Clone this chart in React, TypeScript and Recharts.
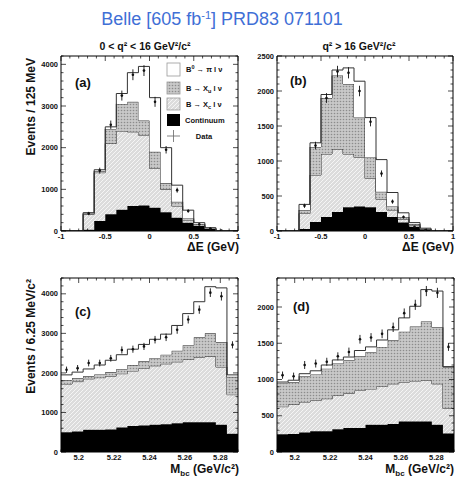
import React from "react";
import { Area, ComposedChart, ErrorBar, Scatter, XAxis, YAxis } from "recharts";

// bin edges (16 bins each)
const DE_EDGES = [-1, -0.875, -0.75, -0.625, -0.5, -0.375, -0.25, -0.125, 0, 0.125, 0.25, 0.375, 0.5, 0.625, 0.75, 0.875, 1];
const MBC_EDGES = [5.19, 5.19625, 5.2025, 5.20875, 5.215, 5.22125, 5.2275, 5.23375, 5.24, 5.24625, 5.2525, 5.25875, 5.265, 5.27125, 5.2775, 5.28375, 5.29];

const DE_LABELS = [-1, -0.5, 0, 0.5, 1];
const MBC_LABELS = [5.2, 5.22, 5.24, 5.26, 5.28];

// (a) dE, 0 < q2 < 16
const A_CONT = [0, 0, 30, 240, 400, 510, 600, 610, 560, 450, 320, 200, 120, 50, 0, 0];
const A_XC = [0, 0, 370, 1160, 1700, 1890, 1780, 1690, 940, 550, 280, 50, 30, 10, 0, 0];
const A_XU = [0, 0, 20, 40, 350, 650, 720, 350, 400, 150, 100, 50, 20, 0, 0, 0];
const A_SIG = [0, 0, 20, 30, 50, 250, 700, 1300, 1300, 850, 400, 200, 30, 20, 10, 0];
const A_DATA = [0, 0, 420, 1450, 2550, 3250, 3750, 3850, 3100, 1950, 980, 480, 160, 60, 10, 0];
const A_ERR = [0, 0, 40, 70, 100, 120, 130, 130, 120, 90, 60, 40, 25, 15, 8, 0];

// (b) dE, q2 > 16
const B_CONT = [0, 0, 30, 130, 200, 270, 340, 350, 340, 270, 200, 120, 60, 20, 0, 0];
const B_XC = [0, 0, 220, 670, 900, 900, 760, 700, 410, 180, 100, 50, 20, 5, 0, 0];
const B_XU = [0, 0, 50, 400, 800, 1050, 1000, 570, 300, 110, 50, 30, 20, 5, 0, 0];
const B_SIG = [0, 0, 80, 60, 50, 80, 230, 520, 570, 460, 200, 60, 20, 10, 0, 0];
const B_DATA = [0, 0, 360, 1220, 1900, 2280, 2260, 2000, 1560, 820, 420, 200, 60, 15, 0, 0];
const B_ERR = [0, 0, 30, 55, 70, 80, 80, 75, 65, 45, 30, 20, 12, 6, 0, 0];

// (c) Mbc, 0 < q2 < 16
const C_CONT = [500, 520, 560, 560, 570, 620, 660, 670, 690, 700, 730, 750, 750, 750, 690, 460];
const C_XC = [1220, 1260, 1290, 1320, 1350, 1360, 1390, 1450, 1490, 1530, 1550, 1590, 1650, 1670, 1460, 990];
const C_XU = [100, 90, 70, 80, 100, 120, 150, 180, 200, 230, 280, 360, 500, 580, 630, 450];
const C_SIG = [130, 150, 180, 240, 300, 360, 400, 420, 470, 520, 640, 800, 900, 1180, 1370, 50];
const C_DATA = [2080, 2120, 2250, 2250, 2370, 2580, 2600, 2670, 2840, 2900, 3090, 3350, 3600, 4030, 3940, 2710];
const C_ERR = [80, 80, 85, 85, 85, 90, 90, 90, 95, 95, 100, 100, 105, 110, 110, 90];

// (d) Mbc, q2 > 16
const D_CONT = [245, 250, 270, 285, 285, 315, 330, 330, 375, 375, 385, 420, 420, 420, 375, 255];
const D_XC = [380, 405, 420, 425, 450, 465, 480, 520, 495, 530, 555, 545, 560, 570, 565, 345];
const D_XU = [325, 310, 355, 360, 415, 440, 455, 470, 510, 545, 605, 695, 750, 810, 780, 575];
const D_SIG = [15, 25, 35, 50, 50, 50, 45, 80, 70, 95, 140, 190, 280, 440, 500, 0];
const D_DATA = [1060, 1045, 1200, 1220, 1245, 1320, 1380, 1555, 1580, 1630, 1720, 1915, 2030, 2220, 2195, 1450];
const D_ERR = [50, 50, 55, 55, 55, 55, 60, 60, 60, 60, 65, 65, 70, 70, 70, 55];

const FONT = "'Liberation Sans', Arial, Helvetica, sans-serif";
const LINE = "#333";

function tickList(lo: number, hi: number, step: number) {
  const out: number[] = [];
  const n = Math.round((hi - lo) / step);
  for (let i = 0; i <= n; i++) out.push(+(lo + i * step).toFixed(6));
  return out;
}

function tickFor(side: string, majors: number[], labels: boolean) {
  return (props: any) => {
    const { x, y, payload } = props;
    const v = payload.value;
    const major = majors.some((m) => Math.abs(m - v) < 1e-9);
    const len = major ? 5 : 2.5;
    let line = null;
    let text = null;
    if (side === "bottom") {
      line = <line x1={x} y1={y} x2={x} y2={y - len} />;
      if (labels && major)
        text = <text x={x} y={y + 8} textAnchor="middle">{String(v)}</text>;
    } else if (side === "top") {
      line = <line x1={x} y1={y} x2={x} y2={y + len} />;
    } else if (side === "left") {
      line = <line x1={x} y1={y} x2={x + len} y2={y} />;
      if (labels && major)
        text = <text x={x - 3} y={y + 2.6} textAnchor="end">{String(v)}</text>;
    } else {
      line = <line x1={x} y1={y} x2={x - len} y2={y} />;
    }
    return (
      <g>
        <g stroke="#000" strokeWidth={0.7}>{line}</g>
        {text && (
          <g fill="#111" fontSize={7.5} fontWeight="bold" fontFamily={FONT}>
            {text}
          </g>
        )}
      </g>
    );
  };
}

type PanelProps = {
  id: string;
  left: number;
  top: number;
  w: number;
  h: number;
  edges: number[];
  cont: number[];
  xc: number[];
  xu: number[];
  sig: number[];
  data: number[];
  err: number[];
  xMajor: number[];
  xMinor: number;
  yMax: number;
  yMajorStep: number;
  yMinor: number;
};

function Panel(p: PanelProps) {
  const last = p.cont.length - 1;
  const table = p.edges.map((x, i) => {
    const k = Math.min(i, last);
    return { x, cont: p.cont[k], xc: p.xc[k], xu: p.xu[k], sig: p.sig[k] };
  });
  const points = p.data
    .map((y, i) => ({ x: (p.edges[i] + p.edges[i + 1]) / 2, y, err: p.err[i] }))
    .filter((d) => d.y > 0);
  const xDomain: [number, number] = [p.edges[0], p.edges[p.edges.length - 1]];
  const xTicks = tickList(xDomain[0], xDomain[1], p.xMinor);
  const yTicks = tickList(0, p.yMax, p.yMinor);
  const yMajor = tickList(0, p.yMax, p.yMajorStep);

  return (
    <div style={{ position: "absolute", left: p.left - 40, top: p.top - 10 }}>
      <ComposedChart
        width={p.w + 50}
        height={p.h + 30}
        data={table}
        margin={{ top: 9, right: 9, left: 0, bottom: 0 }}
      >
        <defs>
          <pattern id={`diag-${p.id}`} patternUnits="userSpaceOnUse" width={4} height={4}>
            <rect width={4} height={4} fill="#dcdcdc" />
            <path d="M-1,1 l2,-2 M0,4 l4,-4 M3,5 l2,-2" stroke="#f5f5f5" strokeWidth={1} />
          </pattern>
          <pattern id={`cross-${p.id}`} patternUnits="userSpaceOnUse" width={3} height={3}>
            <rect width={3} height={3} fill="#c8c8c8" />
            <circle cx={1.5} cy={1.5} r={0.8} fill="#8c8c8c" />
          </pattern>
        </defs>
        <XAxis
          xAxisId="b"
          dataKey="x"
          type="number"
          domain={xDomain}
          allowDataOverflow
          ticks={xTicks}
          interval={0}
          height={20}
          tickSize={0}
          tickMargin={0}
          tickLine={false}
          axisLine={{ stroke: "#000" }}
          tick={tickFor("bottom", p.xMajor, true)}
        />
        <XAxis
          xAxisId="t"
          orientation="top"
          dataKey="x"
          type="number"
          domain={xDomain}
          allowDataOverflow
          ticks={xTicks}
          interval={0}
          height={1}
          tickSize={0}
          tickMargin={0}
          tickLine={false}
          axisLine={{ stroke: "#000" }}
          tick={tickFor("top", p.xMajor, false)}
        />
        <YAxis
          yAxisId="l"
          type="number"
          domain={[0, p.yMax]}
          allowDataOverflow
          ticks={yTicks}
          interval={0}
          width={40}
          tickSize={0}
          tickMargin={0}
          tickLine={false}
          axisLine={{ stroke: "#000" }}
          tick={tickFor("left", yMajor, true)}
        />
        <YAxis
          yAxisId="r"
          orientation="right"
          type="number"
          domain={[0, p.yMax]}
          allowDataOverflow
          ticks={yTicks}
          interval={0}
          width={1}
          tickSize={0}
          tickMargin={0}
          tickLine={false}
          axisLine={{ stroke: "#000" }}
          tick={tickFor("right", yMajor, false)}
        />
        <Area xAxisId="b" yAxisId="l" type="stepAfter" dataKey="cont" stackId="s" fill="#000" fillOpacity={1} stroke="#000" strokeWidth={1} isAnimationActive={false} />
        <Area xAxisId="b" yAxisId="l" type="stepAfter" dataKey="xc" stackId="s" fill={`url(#diag-${p.id})`} fillOpacity={1} stroke={LINE} strokeWidth={1} isAnimationActive={false} />
        <Area xAxisId="b" yAxisId="l" type="stepAfter" dataKey="xu" stackId="s" fill={`url(#cross-${p.id})`} fillOpacity={1} stroke={LINE} strokeWidth={1} isAnimationActive={false} />
        <Area xAxisId="b" yAxisId="l" type="stepAfter" dataKey="sig" stackId="s" fill="#fff" fillOpacity={1} stroke={LINE} strokeWidth={1} isAnimationActive={false} />
        <Scatter
          xAxisId="b"
          yAxisId="l"
          data={points}
          dataKey="y"
          isAnimationActive={false}
          shape={(s: any) => <circle cx={s.cx} cy={s.cy} r={1.3} fill="#111" />}
        >
          <ErrorBar dataKey="err" direction="y" width={0} stroke="#111" strokeWidth={0.9} />
        </Scatter>
      </ComposedChart>
    </div>
  );
}

function Labels() {
  const t = { fontFamily: FONT, fill: "#111", fontWeight: "bold" as const };
  return (
    <svg
      width={459}
      height={480}
      style={{ position: "absolute", left: 0, top: 0, pointerEvents: "none" }}
    >
      <defs>
        <pattern id="diag-lg" patternUnits="userSpaceOnUse" width={4} height={4}>
          <rect width={4} height={4} fill="#dcdcdc" />
          <path d="M-1,1 l2,-2 M0,4 l4,-4 M3,5 l2,-2" stroke="#f5f5f5" strokeWidth={1} />
        </pattern>
        <pattern id="cross-lg" patternUnits="userSpaceOnUse" width={3} height={3}>
          <rect width={3} height={3} fill="#c8c8c8" />
          <circle cx={1.5} cy={1.5} r={0.8} fill="#8c8c8c" />
        </pattern>
      </defs>
      <text x={222} y={25} textAnchor="middle" fontSize={18} fill="#3f6fd6" fontFamily={FONT}>
        Belle [605 fb<tspan dy={-6} fontSize={11}>-1</tspan>
        <tspan dy={6}>] PRD83 071101</tspan>
      </text>
      <text x={145} y={50} textAnchor="middle" fontSize={10.5} {...t}>
        0 &lt; q² &lt; 16 GeV²/c²
      </text>
      <text x={359} y={50} textAnchor="middle" fontSize={10.5} {...t}>
        q² &gt; 16 GeV²/c²
      </text>

      <text transform="translate(34.5,58) rotate(-90)" textAnchor="end" fontSize={12} {...t}>
        Events / 125 MeV
      </text>
      <text transform="translate(34.5,279) rotate(-90)" textAnchor="end" fontSize={12} {...t}>
        Events / 6.25 MeV/c²
      </text>

      <text x={239} y={251} textAnchor="end" fontSize={12} {...t}>ΔE (GeV)</text>
      <text x={454} y={251} textAnchor="end" fontSize={12} {...t}>ΔE (GeV)</text>
      <text x={239} y={473} textAnchor="end" fontSize={12} {...t}>
        M<tspan dy={3} fontSize={8}>bc</tspan>
        <tspan dy={-3}> (GeV/c²)</tspan>
      </text>
      <text x={454} y={473} textAnchor="end" fontSize={12} {...t}>
        M<tspan dy={3} fontSize={8}>bc</tspan>
        <tspan dy={-3}> (GeV/c²)</tspan>
      </text>

      <text x={75} y={87} fontSize={13} {...t}>(a)</text>
      <text x={290} y={85} fontSize={13} {...t}>(b)</text>
      <text x={75} y={316} fontSize={13} {...t}>(c)</text>
      <text x={293} y={311} fontSize={13} {...t}>(d)</text>

      <rect x={167} y={63} width={13} height={13} fill="#fff" stroke="#999" strokeWidth={0.8} />
      <rect x={167} y={82} width={13} height={12} fill="url(#cross-lg)" stroke="#999" strokeWidth={0.8} />
      <rect x={167} y={98} width={13} height={12} fill="url(#diag-lg)" stroke="#999" strokeWidth={0.8} />
      <rect x={167} y={114} width={13} height={12} fill="#000" />
      <line x1={167} y1={136} x2={180} y2={136} stroke="#666" strokeWidth={0.8} />
      <line x1={173.5} y1={130} x2={173.5} y2={142} stroke="#666" strokeWidth={0.8} />
      <g fontSize={7.5} {...t}>
        <text x={186} y={72}>
          B<tspan dy={-3} fontSize={5.5}>0</tspan>
          <tspan dy={3}> → π l ν</tspan>
        </text>
        <text x={186} y={91}>
          B → X<tspan dy={2} fontSize={5.5}>u</tspan>
          <tspan dy={-2}> l ν</tspan>
        </text>
        <text x={186} y={107}>
          B → X<tspan dy={2} fontSize={5.5}>c</tspan>
          <tspan dy={-2}> l ν</tspan>
        </text>
        <text x={185} y={123}>Continuum</text>
        <text x={204} y={139} textAnchor="middle">Data</text>
      </g>
    </svg>
  );
}

export default function App() {
  return (
    <div style={{ position: "absolute", left: 0, top: 0, width: 459, height: 480, background: "#fff" }}>
      <Panel id="a" left={61} top={56} w={177} h={175} edges={DE_EDGES}
        cont={A_CONT} xc={A_XC} xu={A_XU} sig={A_SIG} data={A_DATA} err={A_ERR}
        xMajor={DE_LABELS} xMinor={0.1} yMax={4200} yMajorStep={1000} yMinor={200} />
      <Panel id="b" left={277} top={56} w={176} h={175} edges={DE_EDGES}
        cont={B_CONT} xc={B_XC} xu={B_XU} sig={B_SIG} data={B_DATA} err={B_ERR}
        xMajor={DE_LABELS} xMinor={0.1} yMax={2500} yMajorStep={500} yMinor={100} />
      <Panel id="c" left={61} top={278} w={177} h={174} edges={MBC_EDGES}
        cont={C_CONT} xc={C_XC} xu={C_XU} sig={C_SIG} data={C_DATA} err={C_ERR}
        xMajor={MBC_LABELS} xMinor={0.005} yMax={4400} yMajorStep={1000} yMinor={200} />
      <Panel id="d" left={277} top={278} w={177} h={174} edges={MBC_EDGES}
        cont={D_CONT} xc={D_XC} xu={D_XU} sig={D_SIG} data={D_DATA} err={D_ERR}
        xMajor={MBC_LABELS} xMinor={0.005} yMax={2400} yMajorStep={500} yMinor={100} />
      <Labels />
    </div>
  );
}
